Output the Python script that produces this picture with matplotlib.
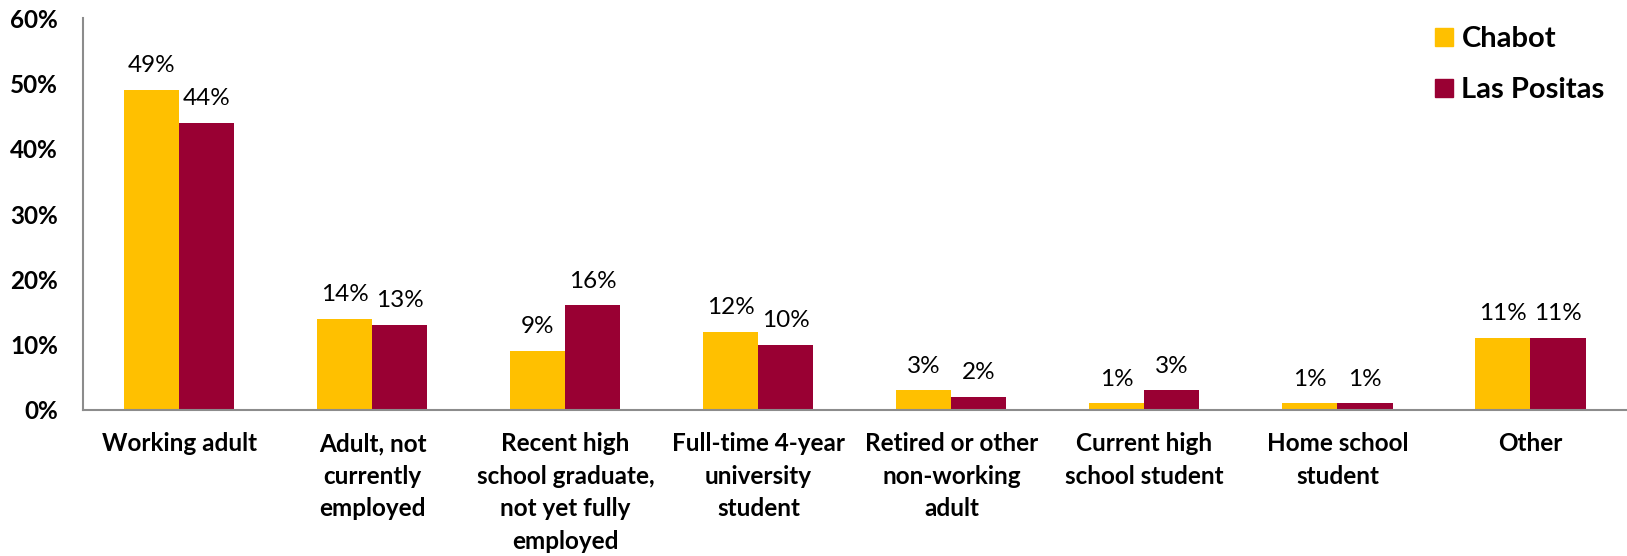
import numpy as np
import matplotlib
matplotlib.use("Agg")
import matplotlib.pyplot as plt
from matplotlib.patches import Patch

plt.rcParams['font.family'] = ['Lato', 'DejaVu Sans']

# survey categories and percentages per college
categories = ["Working adult", "Adult, not\ncurrently\nemployed",
              "Recent high\nschool graduate,\nnot yet fully\nemployed",
              "Full-time 4-year\nuniversity\nstudent", "Retired or other\nnon-working\nadult",
              "Current high\nschool student", "Home school\nstudent", "Other"]
chabot = [49, 14, 9, 12, 3, 1, 1, 11]
las_positas = [44, 13, 16, 10, 2, 3, 1, 11]
yticks = [0, 10, 20, 30, 40, 50, 60]

gold = "#FFC000"
maroon = "#990033"

fig = plt.figure(figsize=(16.27, 5.56), dpi=100)
ax = fig.add_axes([0.051, 0.2626, 0.949, 0.705])

x = np.arange(len(categories))
w = 0.285
b1 = ax.bar(x - w/2, chabot, w, color=gold, label="Chabot")
b2 = ax.bar(x + w/2, las_positas, w, color=maroon, label="Las Positas")

for bars in (b1, b2):
    ax.bar_label(bars, labels=[f"{v:.0f}%" for v in bars.datavalues],
                 padding=10, fontsize=17.5)

ax.set_xlim(-0.5, len(categories) - 0.5)
ax.set_ylim(0, 60)
ax.set_yticks(yticks)
ax.set_yticklabels([f"{t}%" for t in yticks], fontsize=17.5, fontweight="bold")
ax.set_xticks(x)
ax.set_xticklabels(categories, fontsize=17.5, fontweight="bold", linespacing=1.5)
ax.tick_params(axis="y", length=0, pad=18)
ax.tick_params(axis="x", length=0, pad=16)

for s in ("top", "right"):
    ax.spines[s].set_visible(False)
for s in ("left", "bottom"):
    ax.spines[s].set_color("#8c8c8c")
    ax.spines[s].set_linewidth(1.5)

handles = [Patch(color=gold, label="Chabot"), Patch(color=maroon, label="Las Positas")]
leg = fig.legend(handles=handles, loc="upper left", bbox_to_anchor=(0.866, 1.0),
                 frameon=False, handlelength=0.6, handleheight=0.6,
                 handletextpad=0.3, labelspacing=0.85,
                 prop={"weight": "bold", "size": 21})

fig.savefig("out.png", dpi=100)
